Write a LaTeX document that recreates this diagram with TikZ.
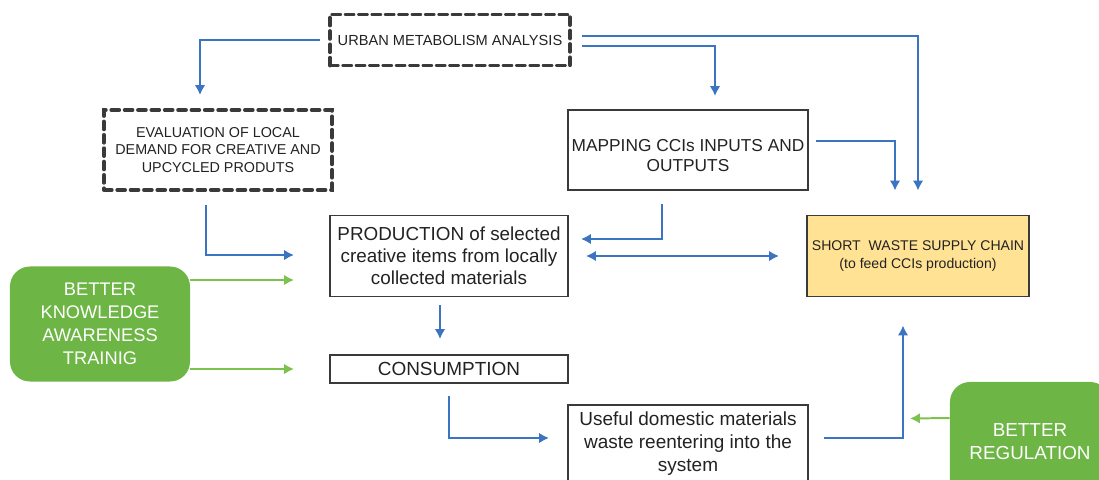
\documentclass[tikz,border=0pt]{standalone}
\usepackage{fontspec}
\setmainfont{Liberation Sans}
\usetikzlibrary{arrows.meta,positioning,calc}
\definecolor{lnblue}{HTML}{3B74C0}
\definecolor{boxgreen}{HTML}{6DB544}
\definecolor{lngreen}{HTML}{7CC24E}
\definecolor{boxyellow}{HTML}{FFE294}
\definecolor{edge}{HTML}{3A3A3A}
\definecolor{txt}{HTML}{222222}
\begin{document}
\begin{tikzpicture}[x=0.025cm,y=-0.025cm,>={Latex[length=7pt,width=7.5pt]},every node/.append style={align=center,text=txt},
    blk/.style={draw=edge,line width=1.4pt,inner sep=0pt},
    dsh/.style={draw=edge,line width=2.8pt,dash pattern=on 5.5pt off 4pt,line cap=round,inner sep=0pt},
    grn/.style={fill=boxgreen,rounded corners=0.5cm,inner sep=0pt,text=white},
    bl/.style={->,draw=lnblue,line width=1.4pt},
    gl/.style={->,draw=lngreen,line width=1.4pt}]
  \useasboundingbox (0,0) rectangle (1099,480);
  \clip (0,0) rectangle (1099,480);

  \node [dsh,minimum width=6cm,minimum height=1.275cm,font=\fontsize{10.4}{12.5}\selectfont] (UMA) at (450,40) {URBAN METABOLISM ANALYSIS};
  \node [dsh,minimum width=5.7cm,minimum height=2cm,font=\fontsize{10.2}{12.4}\selectfont] (EV) at (218,150) {EVALUATION OF LOCAL\\DEMAND FOR CREATIVE AND\\UPCYCLED PRODUTS};
  \node [blk,minimum width=6cm,minimum height=2cm,font=\fontsize{12.3}{14.2}\selectfont] (MAP) at (688,150) {\rule{0pt}{17pt}MAPPING CCIs INPUTS AND\\OUTPUTS};

  \node [blk,minimum width=5.95cm,minimum height=2.025cm,font=\fontsize{13.4}{15.6}\selectfont] (P) at (449,256) {PRODUCTION of selected\\creative items from locally\\collected materials};
  \node [blk,fill=boxyellow,minimum width=5.55cm,minimum height=2.025cm,font=\fontsize{10}{12.8}\selectfont] (SC) at (918,256) {SHORT\ \ WASTE SUPPLY CHAIN\\(to feed CCIs production)};
  \node [blk,minimum width=5.95cm,minimum height=0.7cm,font=\fontsize{13.5}{16}\selectfont] (C) at (449,369) {CONSUMPTION};
  \node [blk,minimum width=6cm,minimum height=1.95cm,font=\fontsize{13.5}{16.3}\selectfont] (W) at (688,444) {Useful domestic materials\\waste reentering into the\\system};

  \node [grn,minimum width=4.5cm,minimum height=2.875cm,font=\fontsize{13}{16.3}\selectfont] (BK) at (100,324) {BETTER\\KNOWLEDGE\\AWARENESS\\TRAINIG};
  \node [grn,minimum width=4cm,minimum height=3cm,font=\fontsize{13.4}{16.3}\selectfont] (BR) at (1030,442) {BETTER\\REGULATION};

  % blue flows
  \draw [bl] ($(UMA.west)+(-8,0)$) -| ($(EV.north)+(-18,-13)$);
  \draw [bl] ($(UMA.east)+(10,6)$) -| ($(MAP.north)+(27,-13)$);
  \draw [bl] ($(UMA.east)+(10,-4)$) -| ($(SC.north)+(0,-24)$);
  \draw [bl] ($(MAP.east)+(7,-9)$) -| ($(SC.north)+(-23,-24)$);
  \draw [bl] ($(EV.south)+(-12,13)$) |- ($(P.west)+(-35,-1)$);
  \draw [bl] ($(MAP.south)+(-26,13)$) |- ($(P.east)+(12,-17)$);
  \draw [bl,<->] ($(P.east)+(17,0)$) -- ($(SC.west)+(-27,0)$);
  \draw [bl] ($(P.south)+(-9,8)$) -- ($(C.north)+(-9,-15)$);
  \draw [bl] ($(C.south)+(0,12)$) |- ($(W.west)+(-18,-6)$);
  \draw [bl] ($(W.east)+(15,-6)$) -| ($(SC.south)+(-15,28)$);

  % green flows
  \draw [gl] ($(BK.east)+(0,-44)$) -- ($(P.west)+(-35,24)$);
  \draw [gl] ($(BK.east)+(0,45)$) -- ($(C.west)+(-35,0)$);
  \draw [gl] ($(BR.west)+(0,-24)$) -- ($(SC.south)+(-8,121)$);
\end{tikzpicture}
\end{document}
